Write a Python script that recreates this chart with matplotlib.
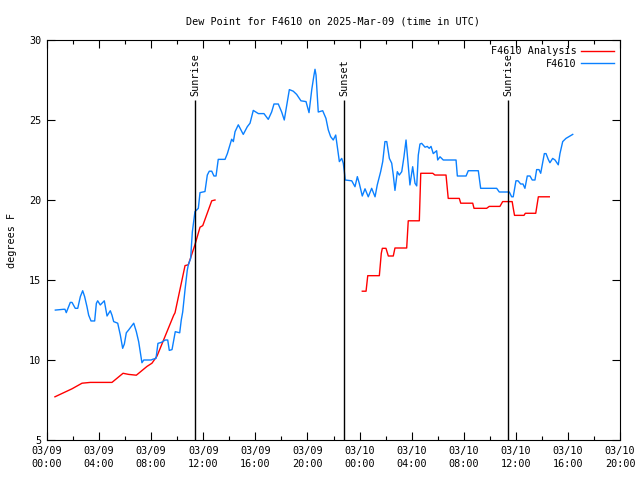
import numpy as np
import matplotlib
matplotlib.use("Agg")
from matplotlib import pyplot as plt

# hours since 2025-03-09 00:00 UTC, dew point in degrees F
obs_hours = [
    0.64, 1.28, 1.38, 1.48, 1.79, 1.92, 2.17, 2.36, 2.56, 2.74, 2.89, 3.07,
    3.20, 3.38, 3.66, 3.79, 3.89, 4.09, 4.40, 4.61, 4.86, 4.99, 5.12, 5.43,
    5.63, 5.81, 5.94, 6.09, 6.27, 6.66, 6.86, 7.04, 7.29, 7.43, 7.68, 7.99,
    8.14, 8.37, 8.52, 8.78, 9.08, 9.27, 9.39, 9.60, 9.85, 10.19, 10.31, 10.42,
    10.60, 10.77, 10.85, 11.03, 11.16, 11.36, 11.62, 11.75, 12.13, 12.31,
    12.46, 12.65, 12.82, 12.98, 13.15, 13.67, 13.85, 14.05, 14.18, 14.31,
    14.44, 14.69, 15.07, 15.38, 15.59, 15.84, 16.23, 16.66, 16.99, 17.25,
    17.43, 17.76, 18.02, 18.22, 18.61, 18.91, 19.17, 19.50, 19.89, 20.12,
    20.33, 20.50, 20.58, 20.66, 20.83, 21.17, 21.42, 21.60, 21.78, 21.98,
    22.17, 22.29, 22.45, 22.63, 22.75, 22.83, 22.90, 23.40, 23.65, 23.83,
    23.98, 24.21, 24.42, 24.67, 24.93, 25.19, 25.36, 25.62, 25.78, 25.95,
    26.09, 26.29, 26.47, 26.59, 26.72, 26.90, 27.05, 27.24, 27.41, 27.57,
    27.70, 27.87, 28.08, 28.26, 28.39, 28.51, 28.64, 28.77, 29.03, 29.20,
    29.35, 29.49, 29.66, 29.92, 30.00, 30.18, 30.43, 31.41, 31.51, 32.18,
    32.35, 33.12, 33.30, 34.53, 34.73, 35.50, 35.68, 35.80, 36.01, 36.17,
    36.37, 36.55, 36.70, 36.88, 37.09, 37.26, 37.47, 37.60, 37.78, 37.91,
    38.19, 38.32, 38.49, 38.62, 38.83, 39.01, 39.26, 39.39, 39.60, 39.85,
    40.37,
]
obs_dewpt = [
    13.12, 13.17, 13.17, 12.96, 13.60, 13.60, 13.23, 13.23, 13.96, 14.33,
    13.96, 13.33, 12.80, 12.44, 12.44, 13.54, 13.70, 13.44, 13.70, 12.75,
    13.08, 12.80, 12.40, 12.30, 11.56, 10.73, 11.00, 11.70, 11.88, 12.30,
    11.77, 11.14, 9.83, 10.00, 10.00, 10.00, 10.05, 10.10, 11.04, 11.10,
    11.25, 11.25, 10.60, 10.65, 11.77, 11.70, 12.50, 13.00, 14.40, 15.60,
    15.94, 16.35, 18.00, 19.27, 19.48, 20.46, 20.53, 21.56, 21.80, 21.80,
    21.50, 21.50, 22.54, 22.54, 22.90, 23.44, 23.80, 23.65, 24.27, 24.70,
    24.10, 24.58, 24.80, 25.60, 25.40, 25.40, 25.04, 25.50, 26.00, 26.00,
    25.50, 25.00, 26.90, 26.80, 26.60, 26.20, 26.15, 25.46, 26.90, 27.80,
    28.17, 27.80, 25.50, 25.58, 25.10, 24.38, 23.96, 23.75, 24.06, 23.33,
    22.40, 22.60, 22.30, 21.80, 21.25, 21.20, 20.83, 21.46, 21.04, 20.25,
    20.70, 20.20, 20.73, 20.20, 20.94, 21.77, 22.40, 23.65, 23.65, 22.60,
    22.30, 21.56, 20.60, 21.77, 21.56, 21.77, 22.70, 23.75, 22.50, 20.94,
    22.08, 21.04, 20.88, 22.80, 23.50, 23.54, 23.30, 23.35, 23.23, 23.35,
    22.90, 23.08, 22.50, 22.70, 22.50, 22.50, 21.50, 21.50, 21.83, 21.83,
    20.73, 20.73, 20.50, 20.50, 20.20, 20.20, 21.20, 21.20, 21.00, 21.00,
    20.73, 21.50, 21.50, 21.25, 21.25, 21.90, 21.90, 21.67, 22.90, 22.90,
    22.54, 22.33, 22.60, 22.50, 22.20, 22.90, 23.65, 23.85, 24.10,
]

# analysis series, NaN marks the gap between runs
ana_hours = [
    0.61, 1.92, 2.69, 3.33, 4.99, 5.84, 6.27, 6.86, 7.68, 8.06, 8.45, 9.73,
    9.83, 10.60, 10.85, 11.36, 11.75, 11.96, 12.65, 12.90, 18.0,
    24.21, 24.50, 24.63, 25.52, 25.67, 25.75, 26.03, 26.21, 26.59, 26.72,
    27.62, 27.74, 28.59, 28.70, 29.62, 29.79, 30.64, 30.81, 31.66, 31.77,
    32.69, 32.79, 33.76, 33.96, 34.78, 34.99, 35.72, 35.80, 35.90, 36.63,
    36.73, 37.53, 37.73, 38.57,
]
ana_dewpt = [
    7.70, 8.20, 8.55, 8.60, 8.60, 9.17, 9.10, 9.05, 9.60, 9.80, 10.25, 12.80,
    12.95, 15.90, 15.95, 17.20, 18.30, 18.40, 19.95, 20.00, np.nan,
    14.30, 14.30, 15.27, 15.27, 16.67, 16.98, 16.98, 16.50, 16.50, 17.00,
    17.00, 18.70, 18.70, 21.67, 21.67, 21.56, 21.56, 20.10, 20.10, 19.80,
    19.80, 19.48, 19.48, 19.60, 19.60, 19.90, 19.90, 19.50, 19.04, 19.04,
    19.17, 19.17, 20.20, 20.20,
]

sun_hours = [11.37, 22.80, 35.40]
sun_labels = ["Sunrise", "Sunset", "Sunrise"]

tick_hours = list(range(0, 45, 4))
tick_labels = ["03/09\n00:00", "03/09\n04:00", "03/09\n08:00", "03/09\n12:00",
               "03/09\n16:00", "03/09\n20:00", "03/10\n00:00", "03/10\n04:00",
               "03/10\n08:00", "03/10\n12:00", "03/10\n16:00", "03/10\n20:00"]

plt.rcParams["font.family"] = ["DejaVu Sans Mono"]
plt.rcParams["font.size"] = 7.3

fig = plt.figure(figsize=(6.4, 4.8), dpi=100)
ax = fig.add_axes([47 / 640, 40 / 480, 573 / 640, 400 / 480])

ax.plot(ana_hours, ana_dewpt, color="#ff0000", lw=1.0, label="F4610 Analysis")
ax.plot(obs_hours, obs_dewpt, color="#0a80ff", lw=1.0, label="F4610")

for h, lab in zip(sun_hours, sun_labels):
    ax.vlines(h, 5, 26.25, color="black", lw=1.0)
    ax.text(h, 26.5, lab, rotation=90, ha="center", va="bottom")

ax.set_xlim(0, 44)
ax.set_ylim(5, 30)
ax.set_xticks(tick_hours)
ax.set_xticklabels(tick_labels, linespacing=1.4)
ax.set_xticks(range(2, 44, 4), minor=True)
ax.set_yticks(range(5, 31, 5))
ax.tick_params(direction="in", top=True, right=True, length=6, width=0.8,
               pad=4)
ax.tick_params(which="minor", direction="in", top=True, length=3, width=0.8)
for s in ax.spines.values():
    s.set_linewidth(0.8)

ax.set_ylabel("degrees F", labelpad=9)
ax.set_title("Dew Point for F4610 on 2025-Mar-09 (time in UTC)", pad=11,
             fontsize=7.3)
ax.legend(loc="upper right", frameon=False, markerfirst=False,
          handlelength=3.2, handletextpad=0.5, borderaxespad=0.2,
          labelspacing=0.25)

fig.savefig("out.png", dpi=100)
